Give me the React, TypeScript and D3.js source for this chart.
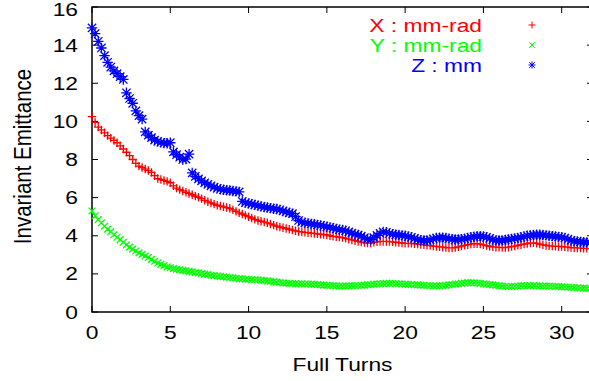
import React from 'react';
import * as d3 from 'd3';

const W = 589;
const H = 381;

const X_TICKS = [0, 5, 10, 15, 20, 25, 30];
const Y_TICKS = [0, 2, 4, 6, 8, 10, 12, 14, 16];
const X_LABEL = 'Full Turns';
const Y_LABEL = 'Invariant Emittance';
const SERIES_NAMES = ['X : mm-rad', 'Y : mm-rad', 'Z : mm'];
const SERIES_COLORS = ['#ff0000', '#00ff00', '#0000ff'];
const SAMPLE_STEP = 0.2; // turns between samples

const xEmit = [
  10.25, 9.95, 9.7, 9.55, 9.4, 9.25, 9.12, 9.0, 8.88, 8.72,
  8.55, 8.38, 8.2, 8.0, 7.8, 7.65, 7.58, 7.5, 7.42, 7.32,
  7.15, 7.0, 6.95, 6.9, 6.85, 6.78, 6.62, 6.5, 6.42, 6.35,
  6.28, 6.22, 6.15, 6.08, 6.02, 5.95, 5.86, 5.78, 5.72, 5.66,
  5.6, 5.56, 5.52, 5.48, 5.44, 5.36, 5.28, 5.2, 5.14, 5.07,
  5.0, 4.93, 4.86, 4.8, 4.76, 4.72, 4.68, 4.62, 4.56, 4.5,
  4.46, 4.42, 4.38, 4.34, 4.3, 4.26, 4.22, 4.2, 4.18, 4.16,
  4.14, 4.12, 4.1, 4.08, 4.06, 4.04, 4.0, 3.97, 3.95, 3.93,
  3.9, 3.86, 3.82, 3.78, 3.74, 3.7, 3.67, 3.64, 3.62, 3.62,
  3.65, 3.68, 3.7, 3.7, 3.7, 3.69, 3.68, 3.66, 3.64, 3.62,
  3.6, 3.6, 3.6, 3.58, 3.56, 3.54, 3.52, 3.5, 3.48, 3.46,
  3.44, 3.42, 3.4, 3.38, 3.36, 3.36, 3.38, 3.42, 3.46, 3.5,
  3.53, 3.56, 3.58, 3.58, 3.56, 3.52, 3.48, 3.45, 3.42, 3.4,
  3.39, 3.38, 3.38, 3.4, 3.43, 3.46, 3.5, 3.53, 3.56, 3.59,
  3.62, 3.63, 3.6, 3.56, 3.52, 3.49, 3.47, 3.46, 3.45, 3.44,
  3.43, 3.42, 3.4, 3.38, 3.37, 3.36, 3.35, 3.34, 3.34, 3.33,
];

const yEmit = [
  5.3, 5.05, 4.85, 4.68, 4.5, 4.35, 4.22, 4.05, 3.92, 3.8,
  3.66, 3.52, 3.4, 3.3, 3.2, 3.1, 3.02, 2.94, 2.86, 2.76,
  2.66, 2.57, 2.5, 2.43, 2.37, 2.32, 2.28, 2.24, 2.21, 2.18,
  2.16, 2.13, 2.1, 2.07, 2.05, 2.02, 1.99, 1.96, 1.93, 1.91,
  1.89, 1.87, 1.85, 1.83, 1.81, 1.79, 1.77, 1.75, 1.74, 1.72,
  1.71, 1.7, 1.69, 1.68, 1.67, 1.65, 1.63, 1.61, 1.59, 1.57,
  1.55, 1.53, 1.51, 1.5, 1.49, 1.49, 1.48, 1.48, 1.47, 1.47,
  1.46, 1.45, 1.44, 1.42, 1.41, 1.4, 1.39, 1.38, 1.37, 1.36,
  1.36, 1.36, 1.37, 1.38, 1.38, 1.39, 1.4, 1.41, 1.42, 1.44,
  1.46, 1.47, 1.48, 1.49, 1.5, 1.5, 1.5, 1.49, 1.48, 1.47,
  1.46, 1.45, 1.44, 1.43, 1.42, 1.41, 1.4, 1.39, 1.38, 1.37,
  1.37, 1.37, 1.38, 1.4, 1.42, 1.44, 1.46, 1.48, 1.5, 1.52,
  1.54, 1.54, 1.53, 1.52, 1.5, 1.48, 1.46, 1.44, 1.42, 1.4,
  1.38, 1.36, 1.35, 1.34, 1.34, 1.35, 1.36, 1.37, 1.38, 1.38,
  1.38, 1.38, 1.37, 1.37, 1.36, 1.36, 1.36, 1.35, 1.34, 1.33,
  1.32, 1.31, 1.3, 1.29, 1.28, 1.27, 1.26, 1.25, 1.24, 1.24,
];

const zEmit = [
  14.9, 14.6, 14.2, 13.85, 13.45, 13.1, 12.85, 12.65, 12.5, 12.35,
  12.2, 11.5, 11.2, 10.95, 10.55, 10.3, 10.12, 9.45, 9.28, 9.15,
  9.02, 8.95, 8.9, 8.86, 8.85, 8.88, 8.4, 8.25, 8.12, 8.0,
  8.02, 8.28, 7.3, 7.12, 6.98, 6.88, 6.78, 6.7, 6.62, 6.55,
  6.49, 6.44, 6.41, 6.39, 6.37, 6.35, 6.33, 6.3, 5.8, 5.74,
  5.7, 5.66, 5.62, 5.58, 5.54, 5.5, 5.48, 5.45, 5.42, 5.4,
  5.36, 5.3, 5.25, 5.2, 5.16, 5.0, 4.8, 4.72, 4.68, 4.65,
  4.62, 4.6, 4.57, 4.54, 4.5, 4.47, 4.44, 4.4, 4.36, 4.32,
  4.3, 4.26, 4.2, 4.14, 4.08, 4.04, 3.98, 3.9, 3.82, 3.8,
  3.9, 4.02, 4.12, 4.2, 4.18, 4.12, 4.08, 4.05, 4.04, 4.02,
  4.0, 3.96, 3.92, 3.86, 3.8, 3.77, 3.75, 3.75, 3.78, 3.83,
  3.88, 3.9, 3.9, 3.88, 3.85, 3.82, 3.8, 3.8, 3.82, 3.85,
  3.88, 3.92, 3.95, 3.97, 3.98, 3.96, 3.92, 3.86, 3.8, 3.76,
  3.75, 3.76, 3.78, 3.8, 3.83, 3.86, 3.89, 3.92, 3.96, 4.0,
  4.02, 4.04, 4.05, 4.05, 4.04, 4.02, 4.0, 3.98, 3.96, 3.94,
  3.92, 3.88, 3.82, 3.76, 3.72, 3.7, 3.68, 3.66, 3.65, 3.64,
];

const SERIES = [xEmit, yEmit, zEmit];
const MARKER_R = [4.2, 4.2, 5.2];

const FONT = '"Liberation Sans", Arial, Helvetica, sans-serif';

function markerAt(kind: number, r: number, px: number, py: number): string {
  const d = r * 0.8;
  const plus = `M${px - r},${py}H${px + r}M${px},${py - r}V${py + r}`;
  const cross = `M${px - d},${py - d}L${px + d},${py + d}M${px - d},${py + d}L${px + d},${py - d}`;
  if (kind === 0) return plus;
  if (kind === 1) return cross;
  return plus + cross;
}

export default function App() {
  const x = d3.scaleLinear().domain([0, 32]).range([92, 593]);
  const y = d3.scaleLinear().domain([0, 16]).range([312, 7]);
  const [x0, x1] = x.range();
  const [y0, y1] = y.range();
  const tickLen = 6;
  const sx = 1.2;
  const fs = 19;

  return (
    <svg
      width={W}
      height={H}
      style={{ position: 'absolute', left: 0, top: 0, background: '#fff' }}
      fontFamily={FONT}
    >
      <rect x={0} y={0} width={W} height={H} fill="#fff" />
      {/* ticks */}
      <g stroke="#000" strokeWidth={1}>
        {X_TICKS.map((t) => (
          <g key={'xt' + t}>
            <line x1={x(t)} x2={x(t)} y1={y0} y2={y0 - tickLen} />
            <line x1={x(t)} x2={x(t)} y1={y1} y2={y1 + tickLen} />
          </g>
        ))}
        {Y_TICKS.map((v) => (
          <g key={'yt' + v}>
            <line x1={x0} x2={x0 + tickLen} y1={y(v)} y2={y(v)} />
            <line x1={x1} x2={x1 - tickLen} y1={y(v)} y2={y(v)} />
          </g>
        ))}
      </g>
      {/* border */}
      <path
        d={`M${x0},${y1}V${y0}H${x1}V${y1}Z`}
        fill="none"
        stroke="#000"
        strokeWidth={1.5}
      />
      {/* tick labels */}
      <g fontSize={fs} fill="#000">
        {X_TICKS.map((t) => (
          <text
            key={'xl' + t}
            transform={`translate(${x(t)},339) scale(${sx},1)`}
            textAnchor="middle"
          >
            {t}
          </text>
        ))}
        {Y_TICKS.map((v) => (
          <text
            key={'yl' + v}
            transform={`translate(78,${Math.max(y(v) + 6.5, 15.5)}) scale(${sx},1)`}
            textAnchor="end"
          >
            {v}
          </text>
        ))}
        <text
          transform={`translate(${(x0 + x1) / 2},370.5) scale(${sx},1)`}
          textAnchor="middle"
        >
          {X_LABEL}
        </text>
        <text
          transform={`translate(31,156.5) scale(${sx},1) rotate(-90)`}
          textAnchor="middle"
          fontSize={20.5}
        >
          {Y_LABEL}
        </text>
      </g>
      {/* data */}
      {SERIES.map((vals, si) => (
        <path
          key={'s' + si}
          d={vals
            .map((v, i) => markerAt(si, MARKER_R[si], x(i * SAMPLE_STEP), y(v)))
            .join('')}
          fill="none"
          stroke={SERIES_COLORS[si]}
          strokeWidth={1.3}
        />
      ))}
      {/* legend */}
      <g fontSize={fs}>
        {SERIES_NAMES.map((name, i) => (
          <g key={'lg' + i}>
            <text
              transform={`translate(482,${31.7 + i * 20}) scale(${sx},1)`}
              textAnchor="end"
              fill={SERIES_COLORS[i]}
            >
              {name}
            </text>
            <path
              d={markerAt(i, 3.5, 532, 25 + i * 20)}
              fill="none"
              stroke={SERIES_COLORS[i]}
              strokeWidth={1}
            />
          </g>
        ))}
      </g>
    </svg>
  );
}
